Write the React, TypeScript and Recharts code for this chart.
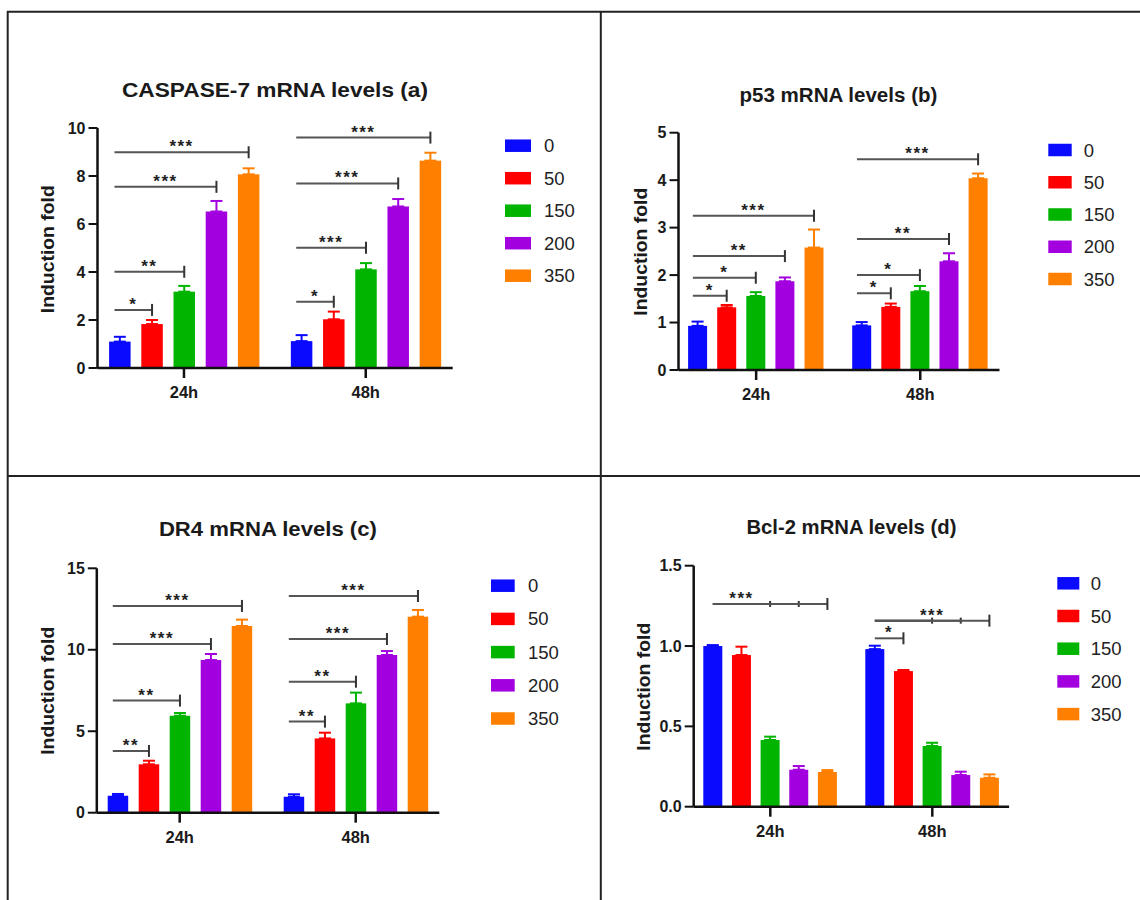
import React from "react";
import { BarChart, Bar, XAxis, YAxis, ErrorBar } from "recharts";

const groups = ["24h", "48h"];
const doses = ["0", "50", "150", "200", "350"];
const COLORS = ["#0a0aff", "#ff0000", "#00b400", "#a300e0", "#ff8000"];

type Sig = [number, number, number, string]; // [group, dose index, height, stars]

// (a) CASPASE-7
const casp24 = [1.1, 1.83, 3.18, 6.52, 8.07];
const casp24Err = [0.2, 0.17, 0.24, 0.44, 0.25];
const casp48 = [1.12, 2.03, 4.11, 6.73, 8.64];
const casp48Err = [0.25, 0.32, 0.26, 0.31, 0.33];
const caspSig: Sig[] = [
  [0, 1, 2.42, "*"], [0, 2, 4.01, "**"], [0, 3, 7.55, "***"], [0, 4, 8.99, "***"],
  [1, 1, 2.76, "*"], [1, 2, 5.01, "***"], [1, 3, 7.69, "***"], [1, 4, 9.6, "***"],
];
const caspTicks = [0, 2, 4, 6, 8, 10];

// (b) p53
const p53_24 = [0.93, 1.32, 1.56, 1.87, 2.58];
const p53_24Err = [0.09, 0.05, 0.08, 0.08, 0.38];
const p53_48 = [0.94, 1.33, 1.66, 2.29, 4.04];
const p53_48Err = [0.07, 0.07, 0.11, 0.17, 0.1];
const p53Sig: Sig[] = [
  [0, 1, 1.565, "*"], [0, 2, 1.944, "*"], [0, 3, 2.4, "**"], [0, 4, 3.25, "***"],
  [1, 1, 1.616, "*"], [1, 2, 2.0, "*"], [1, 3, 2.76, "**"], [1, 4, 4.44, "***"],
];
const p53Ticks = [0, 1, 2, 3, 4, 5];

// (c) DR4
const dr4_24 = [1.04, 2.97, 5.95, 9.37, 11.46];
const dr4_24Err = [0.11, 0.22, 0.17, 0.37, 0.39];
const dr4_48 = [0.98, 4.56, 6.71, 9.68, 12.03];
const dr4_48Err = [0.15, 0.35, 0.66, 0.24, 0.41];
const dr4Sig: Sig[] = [
  [0, 1, 3.79, "**"], [0, 2, 6.88, "**"], [0, 3, 10.35, "***"], [0, 4, 12.69, "***"],
  [1, 1, 5.59, "**"], [1, 2, 8.04, "**"], [1, 3, 10.66, "***"], [1, 4, 13.3, "***"],
];
const dr4Ticks = [0, 5, 10, 15];

// (d) Bcl-2
const bcl24 = [1.0, 0.944, 0.415, 0.23, 0.216];
const bcl24Err = [0.006, 0.052, 0.021, 0.023, 0.012];
const bcl48 = [0.981, 0.844, 0.378, 0.197, 0.18];
const bcl48Err = [0.021, 0.007, 0.02, 0.021, 0.021];
const bclSig: Sig[] = [
  [0, 2, 1.262, "***"], [0, 3, 1.262, ""], [0, 4, 1.262, ""],
  [1, 1, 1.048, "*"], [1, 2, 1.158, ""], [1, 3, 1.158, ""], [1, 4, 1.158, "***"],
];
const bclTicks = [0, 0.5, 1.0, 1.5];

const FONT = '"Liberation Sans", Arial, Helvetica, sans-serif';
const YW = 50;
const XH = 40;

type Layout = {
  left: number; top: number; width: number; height: number;
  axisX: number; plotTop: number; plotBottom: number; plotRight: number;
  padL: number; padR: number; barSize: number; barGap: number; startFrac: number;
  title: { x: number; y: number; w: number };
  ylab: { x: number; y: number };
  legend: { sx: number; sw: number; tx: number; y0: number; dy: number };
};

const layoutA: Layout = {
  left: 0, top: 0, width: 600, height: 475,
  axisX: 97.5, plotTop: 128, plotBottom: 368, plotRight: 452.7,
  padL: -4.4, padR: -3.9, barSize: 21.5, barGap: 10.7, startFrac: 0.25,
  title: { x: 275, y: 97, w: 306 }, ylab: { x: 47.8, y: 249.2 },
  legend: { sx: 505, sw: 26, tx: 544, y0: 145.7, dy: 32.5 },
};
const layoutB: Layout = {
  left: 600, top: 0, width: 540, height: 475,
  axisX: 678.5, plotTop: 132.7, plotBottom: 370, plotRight: 999.5,
  padL: -4.4, padR: -2.8, barSize: 19, barGap: 10.1, startFrac: 0.25,
  title: { x: 838.4, y: 102, w: 198 }, ylab: { x: 640.6, y: 251.7 },
  legend: { sx: 1048.3, sw: 23.4, tx: 1083.8, y0: 150, dy: 32.25 },
};
const layoutC: Layout = {
  left: 0, top: 475, width: 600, height: 425,
  axisX: 96.8, plotTop: 568.3, plotBottom: 812.7, plotRight: 439.3,
  padL: -5.1, padR: -4.4, barSize: 20.5, barGap: 10.5, startFrac: 0.25,
  title: { x: 267.9, y: 536, w: 218 }, ylab: { x: 47.8, y: 690.8 },
  legend: { sx: 491, sw: 23.7, tx: 528, y0: 585.7, dy: 33.2 },
};
const layoutD: Layout = {
  left: 600, top: 475, width: 540, height: 425,
  axisX: 693.7, plotTop: 565.7, plotBottom: 806.7, plotRight: 1009.1,
  padL: -4.4, padR: -4.2, barSize: 19, barGap: 9.65, startFrac: 0.5,
  title: { x: 851.4, y: 534, w: 210 }, ylab: { x: 644, y: 686.7 },
  legend: { sx: 1057.3, sw: 22, tx: 1090.7, y0: 583.3, dy: 32.7 },
};

// bar shape that also draws the significance brackets ending on this bar
function makeShape(series: number, sig: Sig[], L: Layout) {
  return (props: any) => {
    const { x, y, width, height, fill, index, payload } = props;
    const val = payload[`v${series}`];
    const base = y + height;
    const pxPer = height / val;
    const marks = sig.filter((b) => b[0] === index && b[1] === series);
    return (
      <g>
        <rect x={x} y={y} width={width} height={height} fill={fill} />
        {marks.map((b, k) => {
          const x1 = x - series * (width + L.barGap) + L.startFrac * width;
          const x2 = x + width / 2;
          const ly = base - b[2] * pxPer;
          const longer = sig.some((o) => o[0] === b[0] && o[2] === b[2] && o[1] > b[1]);
          const t = longer ? 3 : 6;
          return (
            <g key={k}>
              <line x1={x1} x2={x2} y1={ly} y2={ly} stroke="#555" strokeWidth={2} />
              <line x1={x2} x2={x2} y1={ly - t} y2={ly + t} stroke="#333" strokeWidth={2} />
              {b[3] && (
                <text
                  x={(x1 + x2) / 2}
                  y={ly}
                  textAnchor="middle"
                  fontFamily={FONT}
                  fontWeight="bold"
                  fontSize={17}
                  letterSpacing={1.5}
                  fill="#222"
                >
                  {b[3]}
                </text>
              )}
            </g>
          );
        })}
      </g>
    );
  };
}

const XTick = (props: any) => {
  const { x, y, payload } = props;
  return (
    <text x={x} y={y + 18} textAnchor="middle" fontFamily={FONT} fontWeight="bold" fontSize={16.5} fill="#1a1a1a">
      {payload.value}
    </text>
  );
};

const makeYTick = (decimals: number) => (props: any) => {
  const { x, y, payload } = props;
  return (
    <text x={x} y={y} dy={5.5} textAnchor="end" fontFamily={FONT} fontWeight="bold" fontSize={16} fill="#1a1a1a">
      {Number(payload.value).toFixed(decimals)}
    </text>
  );
};

function Panel({
  title, means, errs, sig, ticks, decimals, L,
}: {
  title: string; means: number[][]; errs: number[][]; sig: Sig[];
  ticks: number[]; decimals: number; L: Layout;
}) {
  const data = groups.map((g, gi) => {
    const row: any = { group: g };
    doses.forEach((_, s) => {
      row[`v${s}`] = means[gi][s];
      row[`e${s}`] = [0, errs[gi][s]];
    });
    return row;
  });
  const margin = {
    top: L.plotTop - L.top,
    left: L.axisX - L.left - YW,
    right: L.left + L.width - L.plotRight,
    bottom: L.top + L.height - L.plotBottom - XH,
  };
  return (
    <div style={{ position: "absolute", left: L.left, top: L.top, width: L.width, height: L.height }}>
      <BarChart
        width={L.width}
        height={L.height}
        data={data}
        margin={margin}
        barSize={L.barSize}
        barGap={L.barGap}
      >
        <XAxis
          dataKey="group"
          height={XH}
          padding={{ left: L.padL, right: L.padR }}
          axisLine={{ stroke: "#111", strokeWidth: 2.5 }}
          tickLine={{ stroke: "#111", strokeWidth: 2.5 }}
          tickSize={10}
          tickMargin={2}
          tick={<XTick />}
        />
        <YAxis
          width={YW}
          type="number"
          domain={[0, ticks[ticks.length - 1]]}
          ticks={ticks}
          interval={0}
          axisLine={{ stroke: "#111", strokeWidth: 2.5 }}
          tickLine={{ stroke: "#111", strokeWidth: 2 }}
          tickSize={9}
          tickMargin={3}
          tick={makeYTick(decimals)}
        />
        {doses.map((d, s) => (
          <Bar
            key={d}
            dataKey={`v${s}`}
            name={d}
            fill={COLORS[s]}
            isAnimationActive={false}
            shape={makeShape(s, sig, L)}
          >
            <ErrorBar dataKey={`e${s}`} width={6} strokeWidth={2} stroke={COLORS[s]} />
          </Bar>
        ))}
      </BarChart>
      <svg
        width={L.width}
        height={L.height}
        style={{ position: "absolute", left: 0, top: 0, pointerEvents: "none" }}
      >
        <text
          x={L.title.x - L.left}
          y={L.title.y - L.top}
          textAnchor="middle"
          fontFamily={FONT}
          fontWeight="bold"
          fontSize={20}
          fill="#1a1a1a"
          textLength={L.title.w}
          lengthAdjust="spacingAndGlyphs"
        >
          {title}
        </text>
        <text
          x={L.ylab.x - L.left}
          y={L.ylab.y - L.top}
          transform={`rotate(-90 ${L.ylab.x - L.left} ${L.ylab.y - L.top})`}
          textAnchor="middle"
          dominantBaseline="central"
          fontFamily={FONT}
          fontWeight="bold"
          fontSize={18}
          fill="#1a1a1a"
          textLength={128}
          lengthAdjust="spacingAndGlyphs"
        >
          Induction fold
        </text>
        {doses.map((d, s) => {
          const cy = L.legend.y0 + s * L.legend.dy - L.top;
          return (
            <g key={d}>
              <rect
                x={L.legend.sx - L.left}
                y={cy - 6.25}
                width={L.legend.sw}
                height={12.5}
                fill={COLORS[s]}
              />
              <text
                x={L.legend.tx - L.left}
                y={cy}
                dominantBaseline="central"
                fontFamily={FONT}
                fontSize={18.5}
                fill="#222"
              >
                {d}
              </text>
            </g>
          );
        })}
      </svg>
    </div>
  );
}

export default function App() {
  return (
    <div
      style={{
        position: "absolute",
        left: 0,
        top: 0,
        width: 1140,
        height: 900,
        background: "#fff",
        overflow: "hidden",
      }}
    >
      <Panel
        title="CASPASE-7 mRNA levels (a)"
        means={[casp24, casp48]}
        errs={[casp24Err, casp48Err]}
        sig={caspSig}
        ticks={caspTicks}
        decimals={0}
        L={layoutA}
      />
      <Panel
        title="p53 mRNA levels (b)"
        means={[p53_24, p53_48]}
        errs={[p53_24Err, p53_48Err]}
        sig={p53Sig}
        ticks={p53Ticks}
        decimals={0}
        L={layoutB}
      />
      <Panel
        title="DR4 mRNA levels (c)"
        means={[dr4_24, dr4_48]}
        errs={[dr4_24Err, dr4_48Err]}
        sig={dr4Sig}
        ticks={dr4Ticks}
        decimals={0}
        L={layoutC}
      />
      <Panel
        title="Bcl-2 mRNA levels (d)"
        means={[bcl24, bcl48]}
        errs={[bcl24Err, bcl48Err]}
        sig={bclSig}
        ticks={bclTicks}
        decimals={1}
        L={layoutD}
      />
      <svg
        width={1140}
        height={900}
        style={{ position: "absolute", left: 0, top: 0, pointerEvents: "none" }}
      >
        <line x1={7} x2={1140} y1={11.8} y2={11.8} stroke="#222" strokeWidth={2} />
        <line x1={7.7} x2={7.7} y1={11} y2={900} stroke="#222" strokeWidth={2} />
        <line x1={600.8} x2={600.8} y1={11} y2={900} stroke="#222" strokeWidth={2} />
        <line x1={7} x2={1140} y1={476} y2={476} stroke="#222" strokeWidth={2} />
      </svg>
    </div>
  );
}
